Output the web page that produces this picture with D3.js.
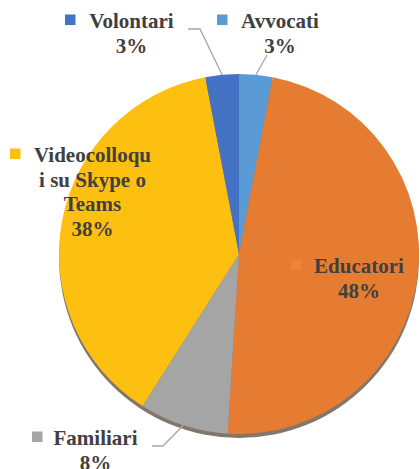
<!DOCTYPE html>
<html>
<head>
<meta charset="utf-8">
<script src="https://cdn.jsdelivr.net/npm/d3@7"></script>
<style>
  html, body { margin: 0; padding: 0; background: #fff; }
  svg { display: block; }
</style>
</head>
<body>
<div id="chart"></div>
<script>
// data
const categories = ["Avvocati", "Educatori", "Familiari", "Videocolloqui su Skype o Teams", "Volontari"];
const values = [3, 48, 8, 38, 3];
const colors = ["#5B9BD5", "#E57C31", "#A5A5A5", "#FDC010", "#4472C4"];

const width = 420,
  height = 469;
const cx = 239,
  cy = 254,
  radius = 180;

// label placement (manual, like the original)
const labelLayout = {
  "Avvocati": { x: 280, y: 28, keyX: 217, lines: ["Avvocati"], lead: [[267, 55]] },
  "Educatori": { x: 359, y: 273, keyX: 291, lines: ["Educatori"] },
  "Familiari": { x: 95.5, y: 445, keyX: 32, lines: ["Familiari"], lead: [[152, 446], [163, 446]] },
  "Videocolloqui su Skype o Teams": { x: 92.5, y: 162, keyX: 10, lines: ["Videocolloqu", "i su Skype o", "Teams"] },
  "Volontari": { x: 131.5, y: 28, keyX: 65, lines: ["Volontari"], lead: [[188, 29], [200, 29]] }
};

const data = categories.map((c, i) => ({ name: c, value: values[i], color: colors[i] }));

const svg = d3
  .select("#chart")
  .append("svg")
  .attr("width", width)
  .attr("height", height);

const pie = d3.pie().sort(null).value((d) => d.value);
const arcs = pie(data);
const arc = d3.arc().innerRadius(0).outerRadius(radius);

const g = svg.append("g").attr("transform", `translate(${cx},${cy})`);

// darker rim under the pie (3d look of the original)
g.append("circle")
  .attr("cx", 0)
  .attr("cy", 4)
  .attr("r", radius)
  .attr("fill", "#5a4a3a")
  .attr("opacity", 0.75);

g.selectAll("path.slice")
  .data(arcs)
  .join("path")
  .attr("class", "slice")
  .attr("d", arc)
  .attr("fill", (d) => d.data.color);

const lineH = 24.5;
const sq = 10.5;

arcs.forEach((d) => {
  const lay = labelLayout[d.data.name];
  const lines = lay.lines.concat([d.data.value + "%"]);

  // leader line to the slice edge
  if (lay.lead) {
    const mid = (d.startAngle + d.endAngle) / 2;
    const end = [cx + radius * Math.sin(mid), cy - radius * Math.cos(mid)];
    svg.append("path")
      .datum(lay.lead.concat([end]))
      .attr("fill", "none")
      .attr("stroke", "#a6a6a6")
      .attr("stroke-width", 1.3)
      .attr("d", d3.line());
  }

  // legend key in front of the first line
  svg.append("rect")
    .attr("x", lay.keyX)
    .attr("y", lay.y - 13.5)
    .attr("width", sq)
    .attr("height", sq)
    .attr("fill", d.data.name === "Educatori" ? d3.color(d.data.color).brighter(0.15) : d.data.color);

  // one text per line, left-anchored and centred by its measured width
  lines.forEach((ln, i) => {
    const t = svg.append("text")
      .attr("x", lay.x)
      .attr("y", lay.y + i * lineH)
      .style("font-family", '"Liberation Serif"')
      .style("font-weight", "bold")
      .style("font-size", "21px")
      .style("fill", "#404040")
      .text(ln);
    const w = t.node().getComputedTextLength();
    t.attr("x", lay.x - w / 2);
  });
});
</script>
</body>
</html>
